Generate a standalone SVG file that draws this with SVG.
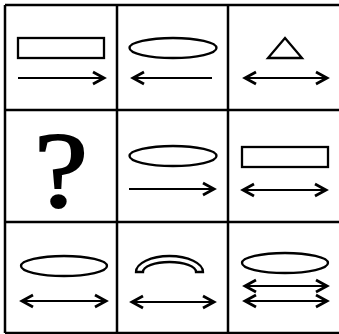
<svg xmlns="http://www.w3.org/2000/svg" width="339" height="334" viewBox="0 0 339 334">
<style>
.grid{stroke:#000;stroke-width:2.5;fill:none}
.sh{stroke:#000;stroke-width:2.3;fill:#fff}
.ar{stroke:#000;stroke-width:2.2;fill:none}
.q{font-family:"Liberation Serif","Times New Roman",serif;font-size:108px;fill:#000;stroke:#000;stroke-width:2}
</style>
<defs>
<marker id="ah" markerUnits="userSpaceOnUse" markerWidth="16" markerHeight="16" refX="12" refY="6.5" orient="auto-start-reverse" overflow="visible">
<path d="M1,0.5 L12,6.5 L1,12.5" fill="none" stroke="#000" stroke-width="2.8" stroke-linejoin="miter"/>
</marker>
</defs>
<rect width="339" height="334" fill="#fff"/>
<g id="grid" class="grid">
<line x1="5" y1="5" x2="339" y2="5"/>
<line x1="5" y1="110" x2="339" y2="110"/>
<line x1="5" y1="222" x2="339" y2="222"/>
<line x1="5" y1="333" x2="339" y2="333"/>
<line x1="5" y1="5" x2="5" y2="333"/>
<line x1="117" y1="5" x2="117" y2="333"/>
<line x1="228" y1="5" x2="228" y2="333"/>
</g>
<g id="cell-1-1">
<rect class="sh" x="18" y="38" width="86" height="20"/>
<line class="ar" x1="18" y1="78" x2="104" y2="78" marker-end="url(#ah)"/>
</g>
<g id="cell-1-2">
<ellipse class="sh" cx="173" cy="48" rx="43.5" ry="10"/>
<line class="ar" x1="212" y1="78" x2="133" y2="78" marker-end="url(#ah)"/>
</g>
<g id="cell-1-3">
<polygon class="sh" points="285,38 302,58 268,58"/>
<line class="ar" x1="245" y1="78" x2="327" y2="78" marker-start="url(#ah)" marker-end="url(#ah)"/>
</g>
<g id="cell-2-1">
<text class="q" x="61" y="206" text-anchor="middle" transform="translate(61,0) scale(1.12,1) translate(-61,0)">?</text>
</g>
<g id="cell-2-2">
<ellipse class="sh" cx="173" cy="156" rx="43.5" ry="10"/>
<line class="ar" x1="129" y1="189" x2="214" y2="189" marker-end="url(#ah)"/>
</g>
<g id="cell-2-3">
<rect class="sh" x="242" y="147" width="86" height="20"/>
<line class="ar" x1="243" y1="190" x2="326" y2="190" marker-start="url(#ah)" marker-end="url(#ah)"/>
</g>
<g id="cell-3-1">
<ellipse class="sh" cx="64" cy="266" rx="43" ry="10"/>
<line class="ar" x1="22" y1="301" x2="106" y2="301" marker-start="url(#ah)" marker-end="url(#ah)"/>
</g>
<g id="cell-3-2">
<path class="sh" d="M136,272 A33.5,16 0 0 1 203,272 L196,272 A26.5,10 0 0 0 143,272 Z"/>
<line class="ar" x1="132" y1="302" x2="214" y2="302" marker-start="url(#ah)" marker-end="url(#ah)"/>
</g>
<g id="cell-3-3">
<ellipse class="sh" cx="285" cy="263" rx="43" ry="10"/>
<line class="ar" x1="245" y1="286" x2="327" y2="286" marker-start="url(#ah)" marker-end="url(#ah)"/>
<line class="ar" x1="245" y1="301" x2="327" y2="301" marker-start="url(#ah)" marker-end="url(#ah)"/>
</g>
</svg>
